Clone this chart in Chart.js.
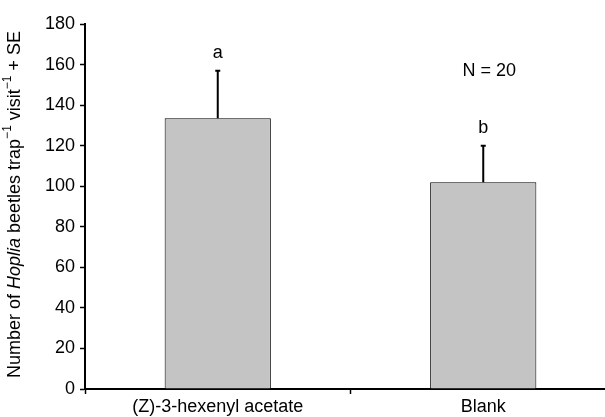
<!DOCTYPE html>
<html>
<head>
<meta charset="utf-8">
<script src="https://cdn.jsdelivr.net/npm/chart.js@4"></script>
<style>
  html, body { margin: 0; padding: 0; background: #fff; overflow: hidden; }
  #wrap { position: relative; width: 617px; height: 417px; }
</style>
</head>
<body>
<div id="wrap"><canvas id="c"></canvas></div>
<script>
// bar means + standard errors
var categories = ['(Z)-3-hexenyl acetate', 'Blank'];
var means = [133.5, 102];
var errors = [23.5, 18];
var letters = ['a', 'b'];
var yTicks = [0, 20, 40, 60, 80, 100, 120, 140, 160, 180];
var noteText = 'N = 20';
var noteValue = 157;

var FONT = "'Liberation Sans', Arial, Helvetica, sans-serif";
var FS = 18;

// error bars + significance letters
var errorBarPlugin = {
  id: 'errorBars',
  afterDatasetsDraw: function (chart) {
    var ctx = chart.ctx;
    var ys = chart.scales.y;
    var meta = chart.getDatasetMeta(0);
    meta.data.forEach(function (bar, i) {
      var top = ys.getPixelForValue(means[i] + errors[i]);
      ctx.save();
      ctx.strokeStyle = '#000';
      ctx.lineWidth = 2;
      ctx.beginPath();
      ctx.moveTo(bar.x, bar.y);
      ctx.lineTo(bar.x, top);
      ctx.moveTo(bar.x - 2.5, top);
      ctx.lineTo(bar.x + 2.5, top);
      ctx.stroke();
      ctx.fillStyle = '#000';
      ctx.font = FS + 'px ' + FONT;
      ctx.textAlign = 'center';
      ctx.textBaseline = 'middle';
      ctx.fillText(letters[i], bar.x, top - 18);
      ctx.restore();
    });
    // N note above the blank bar
    var last = meta.data[meta.data.length - 1];
    ctx.save();
    ctx.fillStyle = '#000';
    ctx.font = FS + 'px ' + FONT;
    ctx.textAlign = 'center';
    ctx.textBaseline = 'middle';
    ctx.fillText(noteText, last.x + 6, ys.getPixelForValue(noteValue));
    ctx.restore();
  }
};

// rotated y title with italic genus and superscripts
var yTitlePlugin = {
  id: 'yTitle',
  afterDraw: function (chart) {
    var ctx = chart.ctx;
    var area = chart.chartArea;
    var parts = [
      { t: 'Number of ', f: FS + 'px ' + FONT },
      { t: 'Hoplia', f: 'italic ' + FS + 'px ' + FONT },
      { t: ' beetles trap', f: FS + 'px ' + FONT },
      { t: '\u22121', f: '12px ' + FONT, sup: true },
      { t: ' visit', f: FS + 'px ' + FONT },
      { t: '\u22121', f: '12px ' + FONT, sup: true },
      { t: ' + SE', f: FS + 'px ' + FONT }
    ];
    var total = 0;
    parts.forEach(function (p) { ctx.font = p.f; p.w = ctx.measureText(p.t).width; total += p.w; });
    ctx.save();
    ctx.translate(15, (area.top + area.bottom) / 2 - 2);
    ctx.rotate(-Math.PI / 2);
    ctx.fillStyle = '#000';
    ctx.textBaseline = 'middle';
    ctx.textAlign = 'left';
    var x = -total / 2;
    parts.forEach(function (p) {
      ctx.font = p.f;
      ctx.fillText(p.t, x, p.sup ? -7 : 0);
      x += p.w;
    });
    ctx.restore();
  }
};

new Chart(document.getElementById('c').getContext('2d'), {
  type: 'bar',
  data: {
    labels: categories,
    datasets: [{
      data: means,
      backgroundColor: '#c4c4c4',
      borderColor: '#000',
      borderWidth: 1,
      borderSkipped: 'bottom',
      categoryPercentage: 0.4,
      barPercentage: 1
    }]
  },
  options: {
    responsive: true, maintainAspectRatio: false, animation: false,
    layout: { padding: { top: 24, right: 1, left: 0, bottom: 0 } },
    plugins: { legend: { display: false }, tooltip: { enabled: false } },
    scales: {
      x: {
        grid: { offset: true, drawOnChartArea: false, drawTicks: true, tickLength: 5, tickWidth: 1.5, tickColor: '#000' },
        border: { display: true, color: '#000', width: 2 },
        ticks: { color: '#000', padding: 2, font: { family: FONT, size: FS } },
        afterFit: function (s) { s.height = 28; }
      },
      y: {
        min: 0, max: 180,
        afterBuildTicks: function (s) { s.ticks = yTicks.map(function (v) { return { value: v }; }); },
        grid: { drawOnChartArea: false, drawTicks: true, tickLength: 5, tickWidth: 1.5, tickColor: '#000' },
        border: { display: true, color: '#000', width: 2 },
        ticks: { color: '#000', padding: 5, font: { family: FONT, size: FS } },
        afterFit: function (s) { s.width = 85; }
      }
    }
  },
  plugins: [errorBarPlugin, yTitlePlugin]
});
</script>
</body>
</html>
